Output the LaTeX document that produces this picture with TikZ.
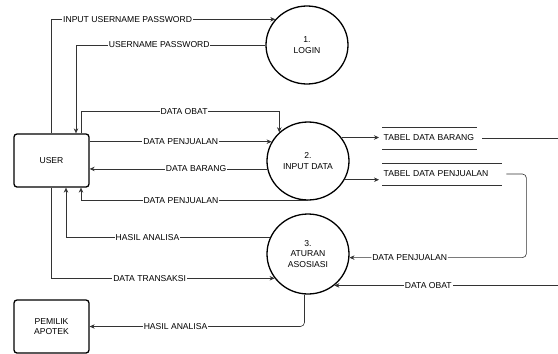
\documentclass[tikz,border=0pt]{standalone}
\usepackage{fontspec}
\setmainfont{Liberation Sans}
\usetikzlibrary{arrows.meta,shapes.geometric}

\tikzset{
  proses/.style={ellipse,draw,line width=1.3pt,minimum width=82pt,minimum height=78pt,align=center,inner sep=0pt},
  entitas/.style={draw,line width=1.3pt,rounded corners=3pt,minimum width=75pt,minimum height=53pt,align=center},
  simpan/.style={anchor=west,minimum height=22pt,inner xsep=1.5pt,inner ysep=0pt,align=left},
  garis/.style={draw=black!80,line width=0.6pt},
  alur/.style={garis,-{Stealth[length=5pt,width=4.5pt]}},
  ket/.style={fill=white,inner sep=0.8pt}
}

\begin{document}
\begin{tikzpicture}[x=1pt,y=-1pt,font=\fontsize{8.6}{10.4}\selectfont]
        \useasboundingbox (0,0) rectangle (558,354);

        % entitas luar
        \node[entitas] (user) at (51.5,160.5) {USER};
        \node[entitas] (pemilik) at (51.5,326.5) {PEMILIK\\APOTEK};

        % proses
        \node[proses] (login) at (307,45) {1.\\LOGIN};
        \node[proses] (input) at (308,161) {2.\\INPUT DATA};
        \node[proses,minimum height=80pt] (aturan) at (308,254) {3.\\ATURAN\\ASOSIASI};

        % tabel
        \node[simpan,text width=92pt] (tbarang) at (382,138) {TABEL DATA BARANG};
        \node[simpan,text width=117pt] (tjual) at (382,174) {TABEL DATA PENJUALAN};
        \draw[garis] (tbarang.north west) -- (tbarang.north east) (tbarang.south west) -- (tbarang.south east);
        \draw[garis] (tjual.north west) -- (tjual.north east) (tjual.south west) -- (tjual.south east);
        \coordinate (tepi) at (558,0);

        \draw[alur] (user.north) |- (login.141) node[ket,pos=0.67] {INPUT USERNAME PASSWORD};
        \draw[alur] (login.west) -| ([xshift=24.5pt]user.north) node[ket,pos=0.28] {USERNAME PASSWORD};

        \draw[alur] ([xshift=29.5pt]user.north) -- ++(0,-22) -| (input.135) node[ket,pos=0.26] {DATA OBAT};
        \draw[alur] (input.152 -| user.east) -- (input.152) node[ket,pos=0.5] {DATA PENJUALAN};
        \draw[alur] (input.191) -- (input.191 -| user.east) node[ket,pos=0.4] {DATA BARANG};
        \draw[alur] (input.south) -| ([xshift=29.5pt]user.south) node[ket,pos=0.28] {DATA PENJUALAN};

        \draw[alur] (aturan.157) -| ([xshift=14.5pt]user.south) node[ket,pos=0.3] {HASIL ANALISA};
        \draw[alur] (user.south) |- (aturan.216) node[ket,pos=0.72] {DATA TRANSAKSI};
        \draw[alur,rounded corners=4pt] (aturan.265) |- (pemilik.east) node[ket,pos=0.8] {HASIL ANALISA};

        \draw[alur,shorten >=3pt] (input.35) -- (input.35 -| tbarang.west);
        \draw[alur,shorten >=3pt] (input.333) -- (input.333 -| tjual.west);
        \draw[garis] ([xshift=5pt]tbarang.east) -- (tbarang.east -| tepi);
        \draw[alur,rounded corners=4pt] ([xshift=4pt]tjual.east) -- ++(20,0) |- (aturan.355) node[ket,pos=0.83] {DATA PENJUALAN};
        \draw[alur] (aturan.310 -| tepi) -- (aturan.310) node[ket,pos=0.58] {DATA OBAT};

    \end{tikzpicture}
\end{document}
